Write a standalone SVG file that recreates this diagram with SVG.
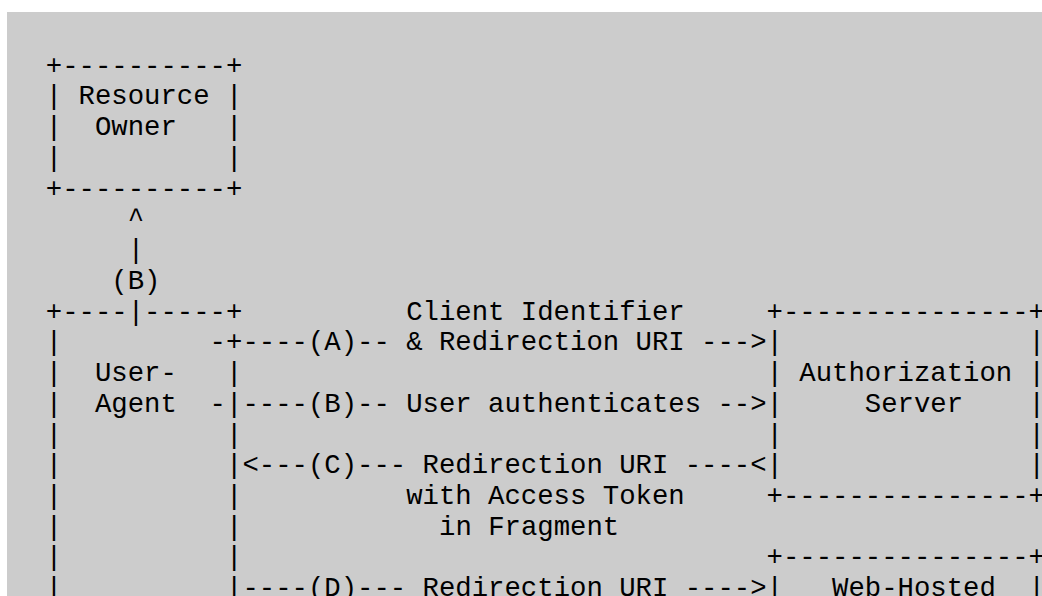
<svg xmlns="http://www.w3.org/2000/svg" width="1042" height="596" viewBox="0 0 1042 596">
<style>
text{font-family:"Liberation Mono","DejaVu Sans Mono",monospace;font-size:27.3px;fill:#000;white-space:pre}
</style>
<rect x="0" y="0" width="1042" height="596" fill="#ffffff"/>
<rect x="7" y="12" width="1035" height="584" fill="#cccccc"/>
<g id="resource-owner">
<text x="45.8" y="73.6" xml:space="preserve">+----------+</text>
<text x="45.8" y="104.3" xml:space="preserve">| Resource |</text>
<text x="45.8" y="135" xml:space="preserve">|  Owner   |</text>
<text x="45.8" y="165.8" xml:space="preserve">|          |</text>
<text x="45.8" y="196.5" xml:space="preserve">+----------+</text>
</g>
<g id="user-agent">
<text x="45.8" y="319.5" xml:space="preserve">+----|-----+</text>
<text x="45.8" y="350.2" xml:space="preserve">|         -+</text>
<text x="45.8" y="381" xml:space="preserve">|  User-   |</text>
<text x="45.8" y="411.7" xml:space="preserve">|  Agent  -|</text>
<text x="45.8" y="442.5" xml:space="preserve">|          |</text>
<text x="45.8" y="473.2" xml:space="preserve">|          |</text>
<text x="45.8" y="503.9" xml:space="preserve">|          |</text>
<text x="45.8" y="534.7" xml:space="preserve">|          |</text>
<text x="45.8" y="565.4" xml:space="preserve">|          |</text>
<text x="45.8" y="596.2" xml:space="preserve">|          |</text>
</g>
<g id="authorization-server">
<text x="766.5" y="319.5" xml:space="preserve">+---------------+</text>
<text x="766.5" y="350.2" xml:space="preserve">|               |</text>
<text x="766.5" y="381" xml:space="preserve">| Authorization |</text>
<text x="766.5" y="411.7" xml:space="preserve">|     Server    |</text>
<text x="766.5" y="442.5" xml:space="preserve">|               |</text>
<text x="766.5" y="473.2" xml:space="preserve">|               |</text>
<text x="766.5" y="503.9" xml:space="preserve">+---------------+</text>
</g>
<g id="web-hosted-client">
<text x="766.5" y="565.4" xml:space="preserve">+---------------+</text>
<text x="766.5" y="596.2" xml:space="preserve">|   Web-Hosted  |</text>
</g>
<g id="connectors">
<text x="127.7" y="227.3" xml:space="preserve">^</text>
<text x="127.7" y="258" xml:space="preserve">|</text>
<text x="111.3" y="288.8" xml:space="preserve">(B)</text>
<text x="406.2" y="319.5" xml:space="preserve">Client Identifier</text>
<text x="242.4" y="350.2" xml:space="preserve">----(A)-- &amp; Redirection URI ---&gt;</text>
<text x="242.4" y="411.7" xml:space="preserve">----(B)-- User authenticates --&gt;</text>
<text x="242.4" y="473.2" xml:space="preserve">&lt;---(C)--- Redirection URI ----&lt;</text>
<text x="406.2" y="503.9" xml:space="preserve">with Access Token</text>
<text x="439" y="534.7" xml:space="preserve">in Fragment</text>
<text x="242.4" y="596.2" xml:space="preserve">----(D)--- Redirection URI ----&gt;</text>
</g>
</svg>
